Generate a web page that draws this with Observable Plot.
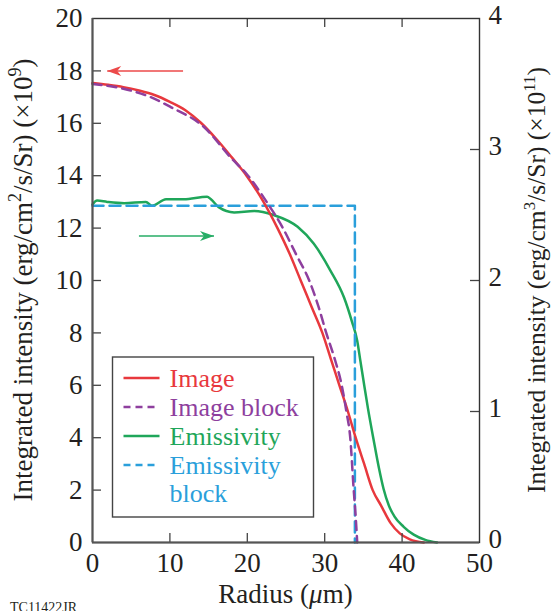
<!DOCTYPE html>
<html><head><meta charset="utf-8">
<script src="https://cdn.jsdelivr.net/npm/d3@7"></script>
<script src="https://cdn.jsdelivr.net/npm/@observablehq/plot@0.6"></script>
<style>body{margin:0;background:#fff}</style>
</head><body><div id="chart"></div>
<script>
// ---- data (left axis units: ×10^9 ; right axis units: ×10^11) ----
const imageR = [0, 2, 4, 6, 8, 10, 12, 14, 16, 18, 19.9, 22, 23.9, 25.5, 26.9, 28.3, 29.7, 30.8, 31.9, 33, 34, 35.1, 36.2, 37.3, 38.5, 39.7, 41, 42.8];
const imageV = [17.54, 17.47, 17.38, 17.25, 17.08, 16.82, 16.5, 16.02, 15.4, 14.7, 14.0, 13.05, 12.0, 11.0, 10.0, 9.0, 8.0, 7.0, 6.0, 5.0, 4.0, 3.0, 2.0, 1.4, 0.75, 0.35, 0.12, 0];
const imageBlockR = [0, 4, 7.5, 10.1, 14.4, 17.8, 20.1, 22.5, 24.6, 26.3, 28.0, 29.2, 30.2, 31.3, 32.2, 32.8, 33.3, 33.75, 34.0, 34.2];
const imageBlockV = [17.5, 17.32, 17.0, 16.62, 15.86, 14.71, 14.0, 13.0, 12.0, 11.0, 10.0, 9.0, 8.0, 7.0, 6.0, 5.0, 4.0, 2.0, 1.0, 0];
const emisR = [0, 0.6, 1.9, 4.1, 6.9, 7.7, 9.5, 11.8, 14.8, 15.3, 16.3, 18.3, 20.9, 23.4, 26.5, 28.6, 30.7, 32.5, 33.5, 34.2, 34.6, 35.0, 35.6, 36.3, 37.0, 37.6, 38.3, 39.0, 40.2, 41.5, 43.0, 44.5];
const emisV = [2.58, 2.61, 2.60, 2.59, 2.60, 2.57, 2.62, 2.62, 2.64, 2.62, 2.56, 2.52, 2.53, 2.50, 2.41, 2.28, 2.08, 1.87, 1.69, 1.54, 1.39, 1.24, 1.02, 0.79, 0.57, 0.41, 0.28, 0.20, 0.12, 0.06, 0.02, 0];
const emisBlockR = [0, 33.9, 33.9];
const emisBlockV = [2.57, 2.57, 0];
const seriesNames = ["Image", "Image block", "Emissivity", "Emissivity block"];
const seriesColors = ["#e8383d", "#8e3f9e", "#1fa65a", "#2a9fdb"];
const seriesDash = [null, "9,6", null, "11,6"];
const xTicks = [0, 10, 20, 30, 40, 50];
const yTicksLeft = [0, 2, 4, 6, 8, 10, 12, 14, 16, 18, 20];
const yTicksRight = [0, 1, 2, 3, 4];
// annotation arrows
const arrowSeries = ["Image", "Emissivity"];
const arrowFrom = [11.7, 6.0];
const arrowTo = [1.9, 15.7];
const arrowLevel = [18, 2.34];
const arrowAxis = ["left", "right"];

// ---- build ----
const K = 20 / 4; // right-axis units -> left-axis units
const W = 551, H = 611, mL = 92, mR = 72, mT = 18, mB = 69;
const fw = W - mL - mR, fh = H - mT - mB;
const ink = "#231f20";
const font = "Liberation Serif, Tinos, Times New Roman, DejaVu Serif, serif";

const series = [
  {name: seriesNames[0], color: seriesColors[0], dash: seriesDash[0], k: 1, r: imageR, v: imageV, curve: "monotone-x"},
  {name: seriesNames[1], color: seriesColors[1], dash: seriesDash[1], k: 1, r: imageBlockR, v: imageBlockV, curve: "monotone-x"},
  {name: seriesNames[2], color: seriesColors[2], dash: seriesDash[2], k: K, r: emisR, v: emisV, curve: "monotone-x"},
  {name: seriesNames[3], color: seriesColors[3], dash: seriesDash[3], k: K, r: emisBlockR, v: emisBlockV, curve: "linear"}
];
const toRows = s => s.r.map((r, i) => ({r, y: s.v[i] * s.k}));
const drawOrder = [2, 3, 0, 1];

const arrows = arrowSeries.map((s, i) => ({
  color: s === "Image" ? "#ec4a4a" : "#27ad66",
  x1: arrowFrom[i], x2: arrowTo[i],
  y: arrowLevel[i] * (arrowAxis[i] === "right" ? K : 1),
  rot: arrowTo[i] > arrowFrom[i] ? 90 : -90
}));
const head = {draw(ctx) {
  ctx.moveTo(0, 0); ctx.lineTo(-5, 14); ctx.lineTo(0, 10); ctx.lineTo(5, 14); ctx.closePath();
}};

const marks = [
  ...drawOrder.map(i => Plot.line(toRows(series[i]), {
    x: "r", y: "y", stroke: series[i].color, strokeWidth: 2.5,
    strokeDasharray: series[i].dash, curve: series[i].curve
  })),
  Plot.link(arrows, {x1: "x1", x2: "x2", y1: "y", y2: "y", stroke: "color", strokeWidth: 1.5}),
  Plot.dot(arrows, {x: "x2", y: "y", symbol: head, fill: "color", stroke: null, rotate: "rot", r: 6}),
  Plot.tickY(yTicksLeft.slice(1, -1), {y: d => d, insetRight: fw - 9, stroke: "#444", strokeWidth: 1.3}),
  Plot.tickY(yTicksRight.slice(1, -1), {y: d => d * K, insetLeft: fw - 9, stroke: "#444", strokeWidth: 1.3}),
  Plot.tickX(xTicks.slice(1, -1), {x: d => d, insetTop: fh - 9, stroke: "#444", strokeWidth: 1.3}),
  Plot.tickX(xTicks.slice(1, -1), {x: d => d, insetBottom: fh - 9, stroke: "#444", strokeWidth: 1.3}),
  Plot.frame({stroke: "#333", strokeWidth: 1.4}),
  Plot.ruleX([0], {stroke: "#555", strokeWidth: 2}),
  Plot.ruleY([0], {stroke: "#555", strokeWidth: 2}),
  Plot.axisY(yTicksLeft, {anchor: "left", tickSize: 0, tickPadding: 10, label: null}),
  Plot.axisY(yTicksRight.map(d => d * K), {anchor: "right", tickSize: 0, tickPadding: 9, dy: -3, tickFormat: d => d / K, label: null}),
  Plot.axisX(xTicks, {anchor: "bottom", tickSize: 0, tickPadding: 10, label: null})
];

const svgEl = Plot.plot({
  width: W, height: H,
  marginLeft: mL, marginRight: mR, marginTop: mT, marginBottom: mB,
  x: {domain: [0, 50]},
  y: {domain: [0, 20]},
  style: {fontFamily: font, fontSize: "27px", color: ink, background: "#fff", overflow: "hidden"},
  marks
});
document.getElementById("chart").appendChild(svgEl);

// ---- titles and legend ----
const svg = d3.select(svgEl);
function txt(sel) {
  return sel.append("text").attr("fill", ink).style("font-family", font).attr("text-anchor", "start");
}
function title(x, y, rotate, size, parts) {
  const t = txt(svg).attr("transform", `translate(${x},${y}) rotate(${rotate})`)
    .attr("text-anchor", "middle").style("font-size", size + "px");
  let shifted = false;
  const sh = Math.round(size * 0.4);
  for (const p of parts) {
    const s = t.append("tspan").text(p.t);
    if (p.sup) { s.style("font-size", Math.round(size * 0.67) + "px").attr("dy", -sh); shifted = true; }
    else if (shifted) { s.attr("dy", sh); shifted = false; }
    if (p.it) s.style("font-style", "italic");
  }
  return t;
}
title(32, mT + fh / 2, -90, 27, [{t: "Integrated intensity (erg/cm"}, {t: "2", sup: 1}, {t: "/s/Sr) (×10"}, {t: "9", sup: 1}, {t: ")"}]);
title(545, mT + fh / 2, -90, 25.5, [{t: "Integrated intensity (erg/cm"}, {t: "3", sup: 1}, {t: "/s/Sr) (×10"}, {t: "11", sup: 1}, {t: ")"}]);
title(mL + fw / 2, 603, 0, 27, [{t: "Radius ("}, {t: "μ", it: 1}, {t: "m)"}]);
txt(svg).attr("x", 10).attr("y", 612).style("font-size", "14px").text("TC11422JR");

const lg = svg.append("g").attr("transform", "translate(112.5,357)");
lg.append("rect").attr("width", 201).attr("height", 160).attr("fill", "#fff")
  .attr("stroke", "#444").attr("stroke-width", 1.4);
const rows = [
  {s: 0, label: "Image", y: 21},
  {s: 1, label: "Image block", y: 50},
  {s: 2, label: "Emissivity", y: 79},
  {s: 3, label: "Emissivity", y: 108},
  {s: null, label: "block", y: 136, c: 3}
];
for (const row of rows) {
  const c = seriesColors[row.s ?? row.c];
  if (row.s !== null) {
    lg.append("line").attr("x1", 11).attr("x2", 47).attr("y1", row.y).attr("y2", row.y)
      .attr("stroke", c).attr("stroke-width", 2.5)
      .attr("stroke-dasharray", series[row.s].dash ? "7,5" : null);
  }
  txt(lg).attr("x", 57).attr("y", row.y + 9).attr("fill", c).style("font-size", "26px").text(row.label);
}
</script>
</body></html>
